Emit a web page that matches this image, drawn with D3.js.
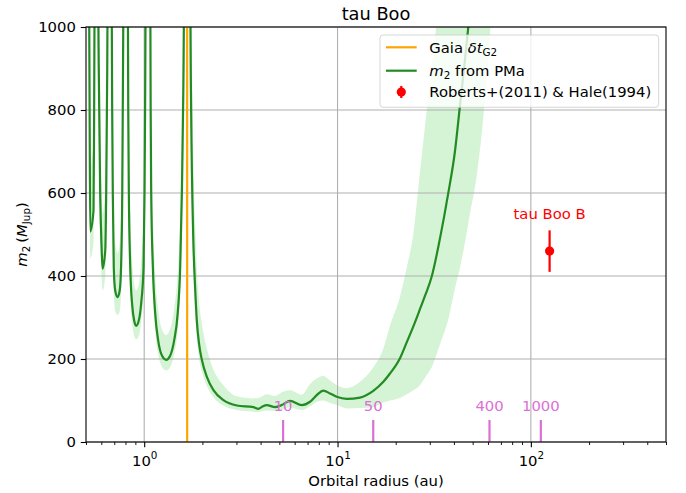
<!DOCTYPE html>
<html>
<head>
<meta charset="utf-8">
<script src="https://cdn.jsdelivr.net/npm/d3@7"></script>
<style>
body { margin: 0; background: #fff; }
svg { font-family: "DejaVu Sans", sans-serif; }
</style>
</head>
<body>
<script>
// m2 from PMa vs orbital radius (au), with 1-sigma band
const radius = [0.514, 0.522, 0.526, 0.547, 0.551, 0.555, 0.565, 0.576, 0.582, 0.592,
  0.602, 0.609, 0.629, 0.636, 0.644, 0.650, 0.663, 0.677, 0.683, 0.688,
  0.696, 0.708, 0.728, 0.747, 0.759, 0.770, 0.777, 0.785, 0.802, 0.820,
  0.827, 0.833, 0.847, 0.867, 0.888, 0.909, 0.937, 0.965, 0.992, 1.004,
  1.012, 1.022, 1.049, 1.072, 1.080, 1.087, 1.109, 1.140, 1.181, 1.239,
  1.299, 1.362, 1.429, 1.490, 1.535, 1.566, 1.594, 1.619, 1.668, 1.718,
  1.749, 1.792, 1.835, 1.873, 1.924, 1.987, 2.109, 2.281, 2.570, 3.014,
  3.672, 3.896, 4.073, 4.306, 4.753, 5.148, 5.682, 6.531, 7.210, 7.807,
  8.445, 9.146, 9.906, 11.16, 13.07, 15.31, 17.25, 18.68, 21.04, 22.79,
  24.64, 26.69, 28.33, 30.68, 33.86, 37.37, 40.48, 42.97, 45.60, 48.40,
  52.42, 56.68, 61.40, 65.94];
const m2 = [1500, 800, 507, 559, 800, 1200, 3000, 1200, 900, 600,
  470, 418, 462, 600, 900, 1300, 3000, 1200, 800, 600,
  420, 365, 349, 365, 420, 600, 900, 1300, 3000, 1300,
  800, 600, 420, 330, 292, 280, 292, 335, 420, 600,
  850, 1300, 3000, 1300, 800, 600, 420, 310, 245, 207,
  198, 208, 245, 310, 420, 600, 850, 1300, 4000, 1300,
  800, 500, 370, 290, 235, 198, 157, 125, 101, 88,
  84, 80, 85, 89, 84, 89, 99, 89, 97, 113,
  124, 117, 109, 104, 107, 123, 145, 165, 202, 240,
  278, 320, 352, 398, 490, 599, 700, 810, 920, 1040,
  1200, 1400, 1650, 1900];
const m2Low = [1200, 650, 443, 480, 680, 1000, 2600, 1000, 760, 510,
  400, 366, 400, 520, 770, 1100, 2600, 1000, 680, 510,
  360, 315, 306, 315, 360, 510, 770, 1100, 2600, 1100,
  680, 510, 360, 285, 255, 248, 255, 290, 360, 510,
  720, 1100, 2600, 1100, 680, 510, 360, 268, 212, 180,
  172, 180, 212, 268, 360, 510, 720, 1100, 3400, 1100,
  680, 430, 315, 250, 200, 170, 135, 108, 88, 77,
  73, 72, 74, 76, 75, 77, 84, 77, 86, 97,
  100, 94, 89, 81, 82, 84, 95, 100, 106, 115,
  125, 137, 155, 180, 235, 295, 370, 420, 480, 550,
  640, 780, 980, 1300];
const m2High = [2000, 1100, 660, 730, 1050, 1600, 4000, 1600, 1200, 790,
  620, 550, 610, 790, 1200, 1700, 4000, 1600, 1050, 790,
  550, 480, 455, 480, 550, 790, 1200, 1700, 4000, 1700,
  1050, 790, 550, 430, 380, 365, 380, 435, 550, 790,
  1100, 1700, 4000, 1700, 1050, 790, 550, 405, 320, 270,
  258, 272, 320, 405, 550, 790, 1100, 1700, 5000, 1800,
  1150, 720, 530, 415, 335, 285, 225, 175, 137, 110,
  105, 106, 110, 115, 111, 120, 125, 114, 140, 153,
  159, 148, 137, 130, 145, 180, 225, 280, 350, 420,
  500, 650, 760, 900, 1100, 1400, 1700, 2000, 2300, 2600,
  3000, 3500, 4000, 4500];

const gaiaRadius = 1.668;
const periodLabels = ["10", "50", "400", "1000"];
const periodRadius = [5.23, 15.3, 61.1, 112.6];

const companionName = "tau Boo B";
const companionRadius = 125;
const companionMass = 460;
const companionErr = 50;

const yTicks = [0, 200, 400, 600, 800, 1000];
const xMajor = [1, 10, 100];
const xMajorExp = ["0", "1", "2"];

const W = 686, H = 493;
const fs = 14.8;

const svg = d3.select("body").append("svg")
  .attr("width", W)
  .attr("height", H);

const x = d3.scaleLog().domain([0.5, 500]).range([86, 666]);
const y = d3.scaleLinear().domain([0, 1000]).range([442, 27]);

svg.append("clipPath").attr("id", "plot")
  .append("rect")
  .attr("x", 86).attr("y", 27)
  .attr("width", 580).attr("height", 415);

const pts = radius.map((r, i) => ({r: r, m: m2[i], lo: m2Low[i], hi: m2High[i]}));

// band (under the grid, like matplotlib)
svg.append("path")
  .datum(pts)
  .attr("clip-path", "url(#plot)")
  .attr("fill", "#d5f3d5")
  .attr("d", d3.area().curve(d3.curveMonotoneX)
    .x(d => x(d.r)).y0(d => y(d.lo)).y1(d => y(d.hi)));

// grid
const grid = svg.append("g").attr("stroke", "#b0b0b0").attr("stroke-width", 1.1);
grid.selectAll("line.v").data(xMajor).join("line")
  .attr("x1", d => x(d)).attr("x2", d => x(d))
  .attr("y1", 27).attr("y2", 442);
grid.selectAll("line.h").data(yTicks).join("line")
  .attr("x1", 86).attr("x2", 666)
  .attr("y1", d => y(d)).attr("y2", d => y(d));

// gaia line
svg.append("line")
  .attr("x1", x(gaiaRadius)).attr("x2", x(gaiaRadius))
  .attr("y1", 27).attr("y2", 442)
  .attr("stroke", "orange").attr("stroke-width", 2.2);

// m2 curve
svg.append("path")
  .datum(pts)
  .attr("clip-path", "url(#plot)")
  .attr("fill", "none")
  .attr("stroke", "#228b22")
  .attr("stroke-width", 2.2)
  .attr("stroke-linejoin", "round")
  .attr("d", d3.line().curve(d3.curveMonotoneX).x(d => x(d.r)).y(d => y(d.m)));

// period markers
const per = svg.append("g");
per.selectAll("line").data(periodRadius).join("line")
  .attr("x1", d => x(d)).attr("x2", d => x(d))
  .attr("y1", y(0)).attr("y2", y(0) - 22)
  .attr("stroke", "orchid").attr("stroke-width", 2.2);
per.selectAll("text").data(periodRadius).join("text")
  .attr("x", d => x(d)).attr("y", y(0) - 31)
  .attr("text-anchor", "middle")
  .attr("fill", "orchid")
  .style("font-size", fs + "px")
  .text((d, i) => periodLabels[i]);

// companion
svg.append("line")
  .attr("x1", x(companionRadius)).attr("x2", x(companionRadius))
  .attr("y1", y(companionMass - companionErr)).attr("y2", y(companionMass + companionErr))
  .attr("stroke", "red").attr("stroke-width", 2.2);
svg.append("circle")
  .attr("cx", x(companionRadius)).attr("cy", y(companionMass)).attr("r", 4.6)
  .attr("fill", "red");
svg.append("text")
  .attr("x", x(companionRadius)).attr("y", 218.5)
  .attr("text-anchor", "middle").attr("fill", "red")
  .style("font-size", fs + "px")
  .text(companionName);

// spines
svg.append("rect")
  .attr("x", 86).attr("y", 27).attr("width", 580).attr("height", 415)
  .attr("fill", "none").attr("stroke", "#000").attr("stroke-width", 1.1);

// axes
const xMinor = x.ticks().filter(d => xMajor.indexOf(d) < 0);
svg.append("g").attr("transform", "translate(0,442)")
  .call(d3.axisBottom(x).tickValues(xMinor).tickSize(3).tickFormat(""))
  .call(g => g.select(".domain").remove())
  .call(g => g.selectAll("line").attr("stroke-width", 0.9));
const xAx = svg.append("g").attr("transform", "translate(0,442)")
  .call(d3.axisBottom(x).tickValues(xMajor).tickSize(5.2).tickFormat(""))
  .call(g => g.select(".domain").remove())
  .call(g => g.selectAll("line").attr("stroke-width", 1.1));
xAx.selectAll(".tick").each(function(d, i) {
  const t = d3.select(this).append("text")
    .attr("fill", "#000").attr("y", 23.5).attr("x", 0)
    .attr("text-anchor", "middle")
    .style("font-family", "DejaVu Sans")
    .style("font-size", fs + "px");
  t.append("tspan").text("10");
  t.append("tspan").text(xMajorExp[i]).attr("dy", -6.5).style("font-size", (fs * 0.7) + "px");
});

svg.append("g").attr("transform", "translate(86,0)")
  .call(d3.axisLeft(y).tickValues(yTicks).tickSize(5.2).tickPadding(5).tickFormat(d3.format("d")))
  .call(g => g.select(".domain").remove())
  .call(g => g.selectAll("line").attr("stroke-width", 1.1))
  .call(g => g.selectAll("text").style("font-size", fs + "px")
    .style("font-family", "DejaVu Sans").attr("fill", "#000"));

// rich text helper (mathtext-like)
function rich(t, parts, size) {
  let shift = 0;
  parts.forEach(p => {
    const target = p.sub ? size * 0.22 : 0;
    t.append("tspan").text(p.t)
      .attr("dy", target - shift)
      .style("font-size", (p.sub ? size * 0.7 : size) + "px")
      .style("font-style", p.i ? "italic" : "normal");
    shift = target;
  });
}

// labels
svg.append("text")
  .attr("x", 376).attr("y", 19.5).attr("text-anchor", "middle")
  .style("font-size", "17.8px")
  .text("tau Boo");
svg.append("text")
  .attr("x", 376).attr("y", 486).attr("text-anchor", "middle")
  .style("font-size", fs + "px")
  .text("Orbital radius (au)");
const yl = svg.append("text")
  .attr("transform", "translate(27,234.5) rotate(-90)")
  .attr("text-anchor", "middle")
  .style("font-size", fs + "px");
rich(yl, [{t: "m", i: true}, {t: "2", sub: true}, {t: "\u2009("}, {t: "M", i: true}, {t: "Jup", sub: true}, {t: ")"}], fs);

// legend
const lg = svg.append("g");
lg.append("rect")
  .attr("x", 380).attr("y", 35).attr("width", 278.7).attr("height", 72.3)
  .attr("rx", 3)
  .attr("fill", "#fff").attr("fill-opacity", 0.8)
  .attr("stroke", "#cccccc").attr("stroke-opacity", 0.8);
lg.append("line").attr("x1", 386).attr("x2", 416.7).attr("y1", 47.3).attr("y2", 47.3)
  .attr("stroke", "orange").attr("stroke-width", 2.2);
lg.append("line").attr("x1", 386).attr("x2", 416.7).attr("y1", 70.7).attr("y2", 70.7)
  .attr("stroke", "#228b22").attr("stroke-width", 2.2);
lg.append("line").attr("x1", 401.3).attr("x2", 401.3).attr("y1", 86).attr("y2", 98)
  .attr("stroke", "red").attr("stroke-width", 2.2);
lg.append("circle").attr("cx", 401.3).attr("cy", 92).attr("r", 4.6).attr("fill", "red");

const l1 = lg.append("text").attr("x", 429.3).attr("y", 52.5).style("font-size", fs + "px");
rich(l1, [{t: "Gaia "}, {t: "\u03b4t", i: true}, {t: "G2", sub: true}], fs);
const l2 = lg.append("text").attr("x", 429.3).attr("y", 75.5).style("font-size", fs + "px");
rich(l2, [{t: "m", i: true}, {t: "2", sub: true}, {t: " from PMa"}], fs);
lg.append("text").attr("x", 429.3).attr("y", 97).style("font-size", fs + "px")
  .text("Roberts+(2011) & Hale(1994)");
</script>
</body>
</html>
